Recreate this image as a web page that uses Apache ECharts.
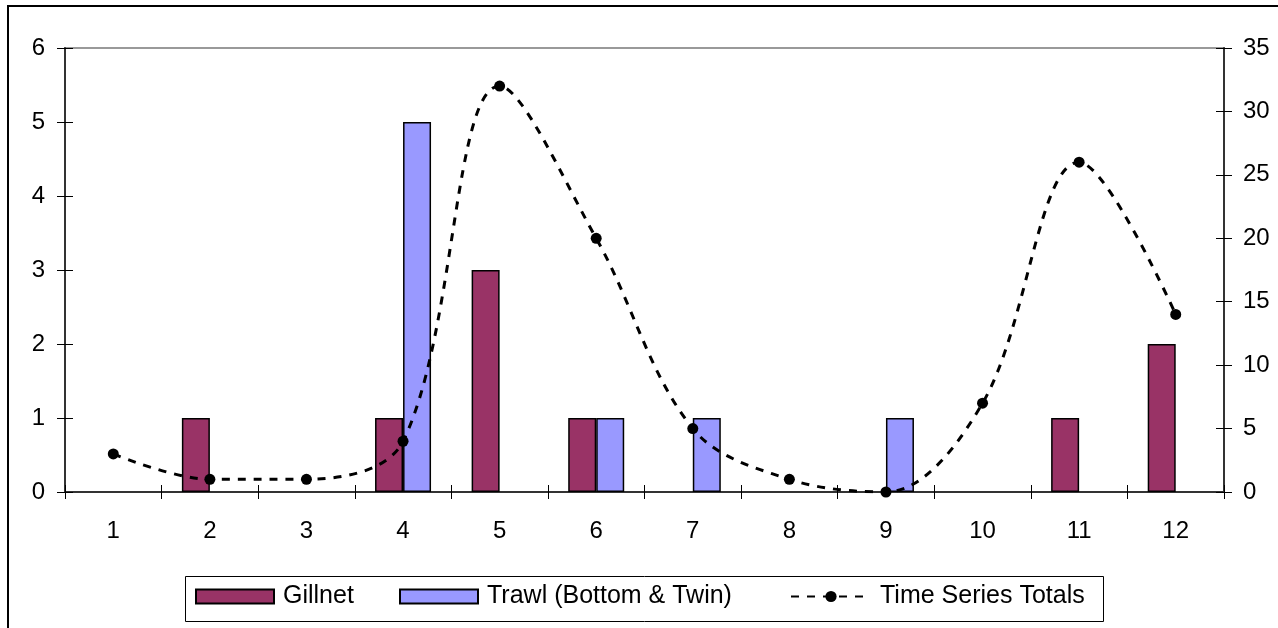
<!DOCTYPE html>
<html>
<head>
<meta charset="utf-8">
<script src="https://cdn.jsdelivr.net/npm/echarts@6/dist/echarts.min.js"></script>
<style>
  html, body { margin: 0; padding: 0; background: #fff; }
  #chart { width: 1278px; height: 628px; }
</style>
</head>
<body>
<div id="chart"></div>
<script>
// Monthly catch counts by gear type, with the time series totals on the right axis
const months = ['1', '2', '3', '4', '5', '6', '7', '8', '9', '10', '11', '12'];
const gillnet = [0, 1, 0, 1, 3, 1, 0, 0, 0, 0, 1, 2];
const trawl = [0, 0, 0, 5, 0, 1, 1, 0, 1, 0, 0, 0];
const totals = [3, 1, 1, 4, 32, 20, 5, 1, 0, 7, 26, 14];
const leftTicks = { min: 0, max: 6, interval: 1 };
const rightTicks = { min: 0, max: 35, interval: 5 };

const FONT = '"Liberation Sans", Arial, sans-serif';
const chart = echarts.init(document.getElementById('chart'), null, { renderer: 'canvas' });

// empty months draw no bar at all
const barData = arr => arr.map(v => (v === 0 ? '-' : v));

const tickLine = { color: '#000', width: 1 };
const legendText = { fontFamily: FONT, fontSize: 25, color: '#000', padding: [0, 0, 0, 4] };
const legendBase = {
  top: 584, padding: 0,
  itemWidth: 78, itemHeight: 14,
  textStyle: legendText
};

chart.setOption({
  animation: false,
  backgroundColor: '#fff',
  textStyle: { fontFamily: FONT },
  graphic: [{
    type: 'rect',
    shape: { x: 8, y: 6, width: 1300, height: 700 },
    style: { fill: 'none', stroke: '#000', lineWidth: 2 },
    silent: true,
    z: -10
  }, {
    type: 'rect',
    shape: { x: 185.5, y: 576.5, width: 918, height: 45 },
    style: { fill: 'none', stroke: '#000', lineWidth: 1 },
    silent: true,
    z: -5
  }],
  grid: {
    left: 65, right: 54, top: 48, bottom: 136,
    show: true, borderColor: '#999', borderWidth: 2, backgroundColor: 'transparent'
  },
  legend: [
    Object.assign({}, legendBase, { left: 195, data: [{ name: 'Gillnet', icon: 'rect' }] }),
    Object.assign({}, legendBase, { left: 399, data: [{ name: 'Trawl (Bottom & Twin)', icon: 'rect' }] }),
    Object.assign({}, legendBase, { left: 790, itemWidth: 80, data: ['Time Series Totals'] })
  ],
  xAxis: [{
    type: 'category',
    data: months,
    boundaryGap: true,
    axisLine: { lineStyle: { color: '#333', width: 2 } },
    axisTick: { show: true, length: 7, lineStyle: tickLine },
    axisLabel: { fontFamily: FONT, fontSize: 24, color: '#000', margin: 27 },
    splitLine: { show: false }
  }, {
    type: 'category',
    data: months,
    position: 'bottom',
    boundaryGap: true,
    axisLine: { show: false },
    axisTick: { show: true, inside: true, length: 7, lineStyle: tickLine },
    axisLabel: { show: false },
    splitLine: { show: false }
  }],
  yAxis: [{
    type: 'value',
    position: 'left',
    min: leftTicks.min, max: leftTicks.max, interval: leftTicks.interval,
    axisLine: { show: true, lineStyle: { color: '#333', width: 2 } },
    axisTick: { show: true, length: 8, lineStyle: tickLine },
    axisLabel: { fontFamily: FONT, fontSize: 24, color: '#000', margin: 20 },
    splitLine: { show: false }
  }, {
    type: 'value',
    position: 'right',
    min: rightTicks.min, max: rightTicks.max, interval: rightTicks.interval,
    axisLine: { show: true, lineStyle: { color: '#333', width: 2 } },
    axisTick: { show: true, length: 8, lineStyle: tickLine },
    axisLabel: { fontFamily: FONT, fontSize: 24, color: '#000', margin: 19 },
    splitLine: { show: false }
  }, {
    type: 'value',
    position: 'left',
    min: leftTicks.min, max: leftTicks.max, interval: leftTicks.interval,
    axisLine: { show: false },
    axisTick: { show: true, inside: true, length: 8, lineStyle: tickLine },
    axisLabel: { show: false },
    splitLine: { show: false }
  }, {
    type: 'value',
    position: 'right',
    min: rightTicks.min, max: rightTicks.max, interval: rightTicks.interval,
    axisLine: { show: false },
    axisTick: { show: true, inside: true, length: 8, lineStyle: tickLine },
    axisLabel: { show: false },
    splitLine: { show: false }
  }],
  series: [{
    name: 'Gillnet',
    type: 'bar',
    xAxisIndex: 0, yAxisIndex: 0,
    data: barData(gillnet),
    barWidth: 28,
    barGap: '0%',
    itemStyle: { color: '#993366', borderColor: '#000', borderWidth: 1.5 }
  }, {
    name: 'Trawl (Bottom & Twin)',
    type: 'bar',
    xAxisIndex: 0, yAxisIndex: 0,
    data: barData(trawl),
    barWidth: 28,
    barGap: '0%',
    itemStyle: { color: '#9999FF', borderColor: '#000', borderWidth: 1.5 }
  }, {
    name: 'Time Series Totals',
    type: 'line',
    xAxisIndex: 0, yAxisIndex: 1,
    data: totals,
    smooth: 0.35,
    symbol: 'circle',
    symbolSize: 11,
    itemStyle: { color: '#000' },
    lineStyle: { color: '#000', width: 3, type: [8, 8] },
    z: 5
  }]
});
</script>
</body>
</html>
